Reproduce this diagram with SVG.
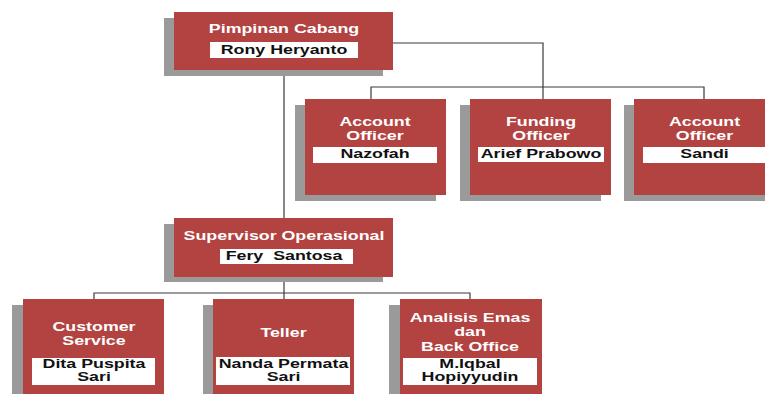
<svg xmlns="http://www.w3.org/2000/svg" width="765" height="394" viewBox="0 0 765 394">
<style>
.sh{fill:#9a9a9a}
.bx{fill:#b24341}
.lb{fill:#ffffff}
.t{font-family:"Liberation Sans",Arial,sans-serif;font-weight:bold;font-size:13px;text-anchor:middle;white-space:pre}
.w{fill:#ffffff}
.k{fill:#111111}
.ln{fill:none;stroke:#3a3a3a;stroke-width:1.2}
</style>
<rect width="765" height="394" fill="#ffffff"/>
<g id="connectors">
<path class="ln" d="M393,43 H543 V99"/>
<path class="ln" d="M371,99 V87 H704 V99"/>
<path class="ln" d="M284,70 V218"/>
<path class="ln" d="M284,277 V299"/>
<path class="ln" d="M94,299 V293 H470 V299"/>
</g>
<g id="pimpinan">
<rect class="sh" x="164" y="18" width="219" height="58"/>
<rect class="bx" x="174" y="12" width="219" height="58"/>
<rect class="lb" x="210" y="42" width="148" height="16"/>
<g transform="translate(284,0) scale(1.37,1)">
<text class="t w" x="0" y="33">Pimpinan Cabang</text>
<text class="t k" x="0" y="54.5">Rony Heryanto</text>
</g>
</g>
<g id="ao1">
<rect class="sh" x="295" y="105" width="141" height="96"/>
<rect class="bx" x="305" y="99" width="141" height="96"/>
<rect class="lb" x="313" y="147" width="124" height="16"/>
<g transform="translate(375,0) scale(1.37,1)">
<text class="t w" x="0" y="126.5">Account</text>
<text class="t w" x="0" y="140.5">Officer</text>
<text class="t k" x="0" y="158">Nazofah</text>
</g>
</g>
<g id="fo">
<rect class="sh" x="460" y="105" width="141" height="96"/>
<rect class="bx" x="470" y="99" width="141" height="96"/>
<rect class="lb" x="478" y="147" width="126" height="15"/>
<g transform="translate(541,0) scale(1.37,1)">
<text class="t w" x="0" y="126.5">Funding</text>
<text class="t w" x="0" y="140.5">Officer</text>
<text class="t k" x="0" y="158">Arief Prabowo</text>
</g>
</g>
<g id="ao2">
<rect class="sh" x="624" y="105" width="141" height="96"/>
<rect class="bx" x="634" y="99" width="141" height="96"/>
<rect class="lb" x="643" y="147" width="124" height="16"/>
<g transform="translate(704.5,0) scale(1.37,1)">
<text class="t w" x="0" y="126.5">Account</text>
<text class="t w" x="0" y="140.5">Officer</text>
<text class="t k" x="0" y="158">Sandi</text>
</g>
</g>
<g id="supervisor">
<rect class="sh" x="164" y="224" width="219" height="58"/>
<rect class="bx" x="174" y="218" width="219" height="59"/>
<rect class="lb" x="220" y="249" width="133" height="15"/>
<g transform="translate(284,0) scale(1.37,1)">
<text class="t w" x="0" y="240">Supervisor Operasional</text>
<text class="t k" x="0" y="260.5" xml:space="preserve">Fery  Santosa</text>
</g>
</g>
<g id="cs">
<rect class="sh" x="12" y="305" width="141" height="96"/>
<rect class="bx" x="23" y="299" width="141" height="96"/>
<rect class="lb" x="32" y="358" width="123" height="27"/>
<g transform="translate(94,0) scale(1.37,1)">
<text class="t w" x="0" y="331">Customer</text>
<text class="t w" x="0" y="345">Service</text>
<text class="t k" x="0" y="368.5">Dita Puspita</text>
<text class="t k" x="0" y="381.5">Sari</text>
</g>
</g>
<g id="teller">
<rect class="sh" x="203" y="305" width="141" height="96"/>
<rect class="bx" x="213" y="299" width="141" height="96"/>
<rect class="lb" x="216" y="357" width="134" height="28"/>
<g transform="translate(283.5,0) scale(1.37,1)">
<text class="t w" x="0" y="337.5">Teller</text>
<text class="t k" x="0" y="368">Nanda Permata</text>
<text class="t k" x="0" y="381.5">Sari</text>
</g>
</g>
<g id="analisis">
<rect class="sh" x="389" y="305" width="141" height="96"/>
<rect class="bx" x="400" y="299" width="142" height="96"/>
<rect class="lb" x="403" y="358" width="134" height="27"/>
<g transform="translate(470,0) scale(1.37,1)">
<text class="t w" x="0" y="322.5">Analisis Emas</text>
<text class="t w" x="0" y="336">dan</text>
<text class="t w" x="0" y="351.5">Back Office</text>
<text class="t k" x="0" y="368.5">M.Iqbal</text>
<text class="t k" x="0" y="381.5">Hopiyyudin</text>
</g>
</g>
</svg>
